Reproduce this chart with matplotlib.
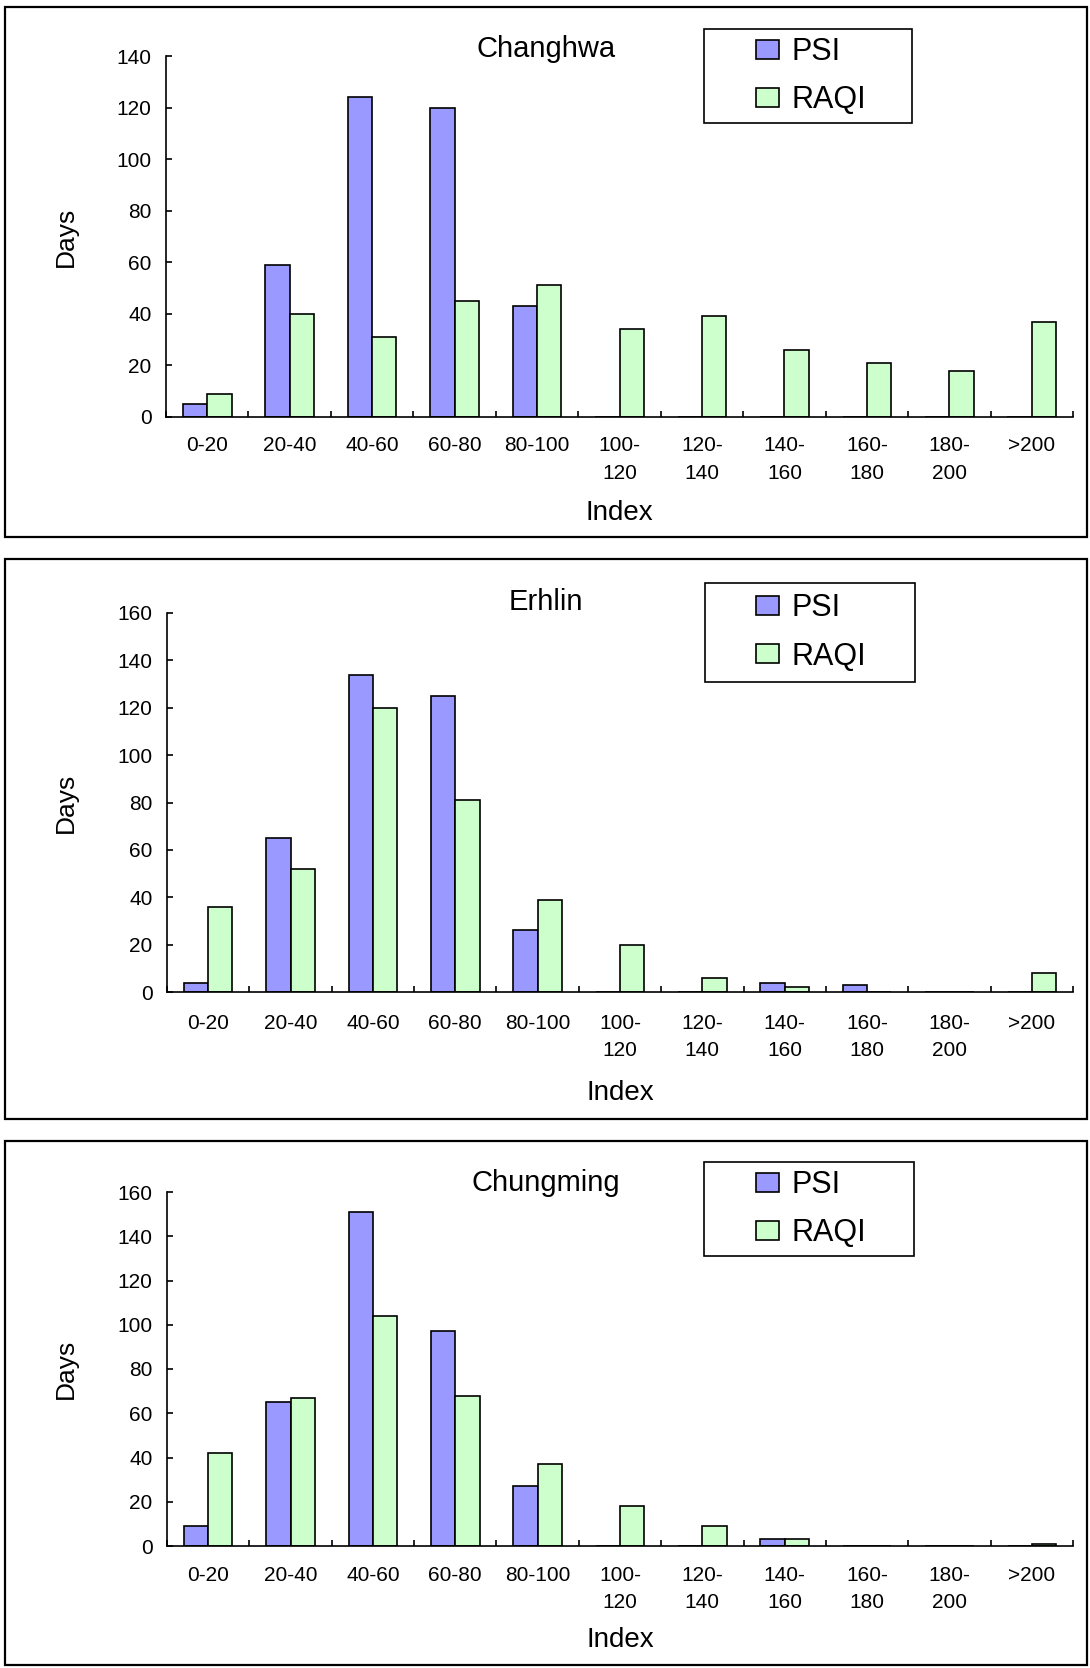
import matplotlib
matplotlib.use("Agg")
import matplotlib.pyplot as plt
from matplotlib.patches import Rectangle, Patch

# Index classes on the x axis
categories = ["0-20", "20-40", "40-60", "60-80", "80-100", "100-\n120",
              "120-\n140", "140-\n160", "160-\n180", "180-\n200", ">200"]

stations = ["Changhwa", "Erhlin", "Chungming"]

# Days in each index class
psi_changhwa = [5, 59, 124, 120, 43, 0, 0, 0, 0, 0, 0]
raqi_changhwa = [9, 40, 31, 45, 51, 34, 39, 26, 21, 18, 37]

psi_erhlin = [4, 65, 134, 125, 26, 0, 0, 4, 3, 0, 0]
raqi_erhlin = [36, 52, 120, 81, 39, 20, 6, 2, 0, 0, 8]

psi_chungming = [9, 65, 151, 97, 27, 0, 0, 3, 0, 0, 0]
raqi_chungming = [42, 67, 104, 68, 37, 18, 9, 3, 0, 0, 1]

psi_all = [psi_changhwa, psi_erhlin, psi_chungming]
raqi_all = [raqi_changhwa, raqi_erhlin, raqi_chungming]

# layout of each panel, in pixels from the top-left corner
W, H = 1090, 1668
layout = [
    dict(box=(5, 7, 1087, 537), ax=(166, 56, 1073, 417), ymax=140,
         title_y=57, leg=(704, 29, 912, 123), xlab_y=513, xpad=14),
    dict(box=(5, 559, 1087, 1119), ax=(167, 613, 1073, 992), ymax=160,
         title_y=610, leg=(705, 583, 915, 682), xlab_y=1093, xpad=16),
    dict(box=(5, 1141, 1087, 1665), ax=(167, 1192, 1073, 1546), ymax=160,
         title_y=1191, leg=(704, 1162, 914, 1256), xlab_y=1640, xpad=14.5),
]

psi_color = "#9999FF"
raqi_color = "#CCFFCC"
bar_w = 0.295

plt.rcParams["font.family"] = "Liberation Sans"

fig = plt.figure(figsize=(W / 100, H / 100), dpi=100)


def fx(px):
    return px / W


def fy(py):
    return 1 - py / H


for station, psi, raqi, lay in zip(stations, psi_all, raqi_all, layout):
    # outer frame of the panel
    x0, y0, x1, y1 = lay["box"]
    fig.add_artist(Rectangle((fx(x0), fy(y1)), fx(x1 - x0), (y1 - y0) / H,
                             transform=fig.transFigure, fill=False,
                             edgecolor="black", linewidth=1.6))

    a0, t0, a1, b0 = lay["ax"]
    ax = fig.add_axes([fx(a0), fy(b0), fx(a1 - a0), (b0 - t0) / H])

    x = list(range(len(categories)))
    ax.bar([i - bar_w / 2 for i in x], psi, bar_w, color=psi_color,
           edgecolor="black", linewidth=1.2, label="PSI", zorder=3)
    ax.bar([i + bar_w / 2 for i in x], raqi, bar_w, color=raqi_color,
           edgecolor="black", linewidth=1.2, label="RAQI", zorder=3)

    ax.set_xlim(-0.5, len(categories) - 0.5)
    ax.set_ylim(0, lay["ymax"])

    for side in ["top", "right"]:
        ax.spines[side].set_visible(False)
    for side in ["left", "bottom"]:
        ax.spines[side].set_linewidth(1.2)
        ax.spines[side].set_zorder(4)

    ax.set_yticks(range(0, lay["ymax"] + 1, 20))
    ax.tick_params(axis="y", direction="in", length=4.5, width=1.2,
                   labelsize=15, pad=10.5)

    # tick marks between classes, labels under each class
    ax.set_xticks([i - 0.5 for i in range(len(categories) + 1)])
    ax.set_xticklabels([])
    ax.set_xticks(x, minor=True)
    ax.set_xticklabels(categories, minor=True, linespacing=1.55)
    ax.tick_params(axis="x", which="major", direction="in", length=4.5,
                   width=1.2)
    ax.tick_params(axis="x", which="minor", length=0, labelsize=15,
                   pad=lay["xpad"])

    ax.set_ylabel("Days", fontsize=19, va="center")
    ax.yaxis.set_label_coords((66 - a0) / (a1 - a0), 0.5)
    ax.set_xlabel("Index", fontsize=20, va="center")
    ax.xaxis.set_label_coords(0.5, (b0 - lay["xlab_y"]) / (b0 - t0))

    fig.text(fx(546), fy(lay["title_y"]), station, fontsize=21,
             ha="center", va="baseline")

    # legend with its own frame
    l0, lt, l1, lb = lay["leg"]
    fig.add_artist(Rectangle((fx(l0), fy(lb)), fx(l1 - l0), (lb - lt) / H,
                             transform=fig.transFigure, fill=False,
                             edgecolor="black", linewidth=1.2))
    handles = [Patch(facecolor=psi_color, edgecolor="black", linewidth=1.2),
               Patch(facecolor=raqi_color, edgecolor="black", linewidth=1.2)]
    ax.legend(handles, ["PSI", "RAQI"], loc="center left",
              bbox_to_anchor=(fx(756), fy((lt + lb) / 2)),
              bbox_transform=fig.transFigure, frameon=False, fontsize=22,
              borderpad=0, borderaxespad=0, handlelength=0.76,
              handleheight=0.58, handletextpad=0.4, labelspacing=0.6)

fig.savefig("out.png", dpi=100)
plt.close(fig)
